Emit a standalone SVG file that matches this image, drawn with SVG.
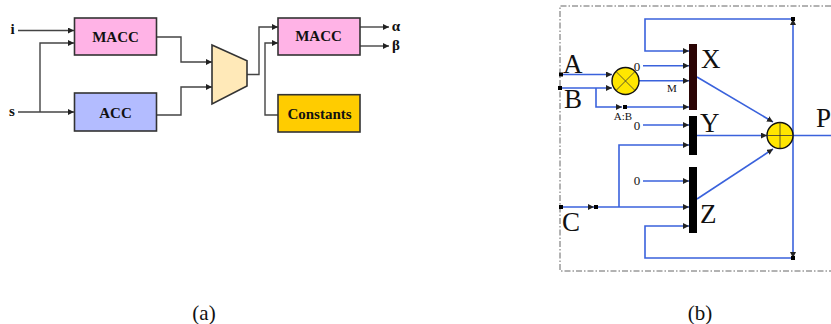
<svg xmlns="http://www.w3.org/2000/svg" width="831" height="324" viewBox="0 0 831 324">
<style>
text{font-family:"Liberation Serif","Times New Roman",serif;fill:#111}
.b{font-weight:bold;font-size:15px;text-anchor:middle}
.box{stroke:#333;stroke-width:1.6}
.w{fill:none;stroke:#444;stroke-width:1.4}
.u{fill:none;stroke:#3a62dc;stroke-width:1.6}
.t{fill:#000}
.L{font-size:27px}
.z{font-size:13px;text-anchor:middle}
.s{font-size:11px;text-anchor:middle}
.c{font-size:21px;text-anchor:middle}
.o{fill:#ffe600;stroke:#111;stroke-width:1.4}
.x{fill:none;stroke:#333;stroke-width:.8}
</style>
<defs>
<marker id="a" markerUnits="userSpaceOnUse" markerWidth="7" markerHeight="6" refX="6" refY="3" orient="auto"><path d="M0 0L6 3L0 6z" fill="#222"/></marker>
</defs>
<rect width="831" height="324" fill="#fff"/>
<g id="connectors">
<path class="w" marker-end="url(#a)" d="M18 30.500H74"/>
<path class="w" marker-end="url(#a)" d="M18 112H74"/>
<path class="w" marker-end="url(#a)" d="M40 112V43H74"/>
<path class="w" marker-end="url(#a)" d="M156.500 37H181V62H212"/>
<path class="w" marker-end="url(#a)" d="M156.500 115H181V87H212"/>
<path class="w" marker-end="url(#a)" d="M247 74.500H259V27H278"/>
<path class="w" marker-end="url(#a)" d="M278 115H265V43H278"/>
<path class="w" marker-end="url(#a)" d="M360 27H389"/>
<path class="w" marker-end="url(#a)" d="M360 46H389"/>
<path class="u" marker-end="url(#a)" d="M561 74.500H612"/>
<path class="u" marker-end="url(#a)" d="M560 88H612"/>
<path class="u" marker-end="url(#a)" d="M596 88V107H622"/>
<path class="u" marker-end="url(#a)" d="M625 107H689"/>
<path class="u" marker-end="url(#a)" d="M793 19H645V51H689"/>
<path class="u" marker-end="url(#a)" d="M643 65.700H689"/>
<path class="u" marker-end="url(#a)" d="M639 80.700H689"/>
<path class="u" marker-end="url(#a)" d="M643 125H689"/>
<path class="u" marker-end="url(#a)" d="M697 135.500H767"/>
<path class="u" d="M793 135.500H831"/>
<path class="u" marker-end="url(#a)" d="M697 77L773 122"/>
<path class="u" marker-end="url(#a)" d="M697 199L773 149"/>
<path class="u" marker-end="url(#a)" d="M793 135.500V19"/>
<path class="u" marker-end="url(#a)" d="M793 135.500V258"/>
<path class="u" marker-end="url(#a)" d="M561 207H594"/>
<path class="u" marker-end="url(#a)" d="M596 207H689"/>
<path class="u" marker-end="url(#a)" d="M619 207V145H689"/>
<path class="u" marker-end="url(#a)" d="M643 181H689"/>
<path class="u" marker-end="url(#a)" d="M793 258H645V226H689"/>
</g>
<g id="frame"><path d="M831 6H560V271H831" fill="none" stroke="#666" stroke-width="1" stroke-dasharray="6 2 1.500 2"/></g>
<g id="macc1"><rect class="box" x="74.500" y="18" width="82" height="37" fill="#ffb3e6"/><text class="b" x="115.500" y="41.500">MACC</text></g>
<g id="acc"><rect class="box" x="74.500" y="93" width="82" height="38" fill="#b3bcff"/><text class="b" x="115.500" y="117.500">ACC</text></g>
<g id="mux"><path class="box" d="M212 45L247 60.700V86L212 104z" fill="#ffe9b8"/></g>
<g id="macc2"><rect class="box" x="278" y="18" width="82" height="37" fill="#ffb3e6"/><text class="b" x="318.500" y="41">MACC</text></g>
<g id="constants"><rect class="box" x="278" y="94.700" width="82" height="37.300" fill="#ffcc00"/><text class="b" x="319.500" y="119">Constants</text></g>
<g id="labels-a">
<text class="b" x="12.500" y="34">i</text><text class="b" x="12" y="116">s</text>
<text class="b" x="396" y="31">α</text><text class="b" x="396" y="50">β</text>
<text class="c" x="204" y="320">(a)</text><text class="c" x="700" y="320">(b)</text>
</g>
<g id="mult"><circle class="o" cx="625.500" cy="81" r="13.500"/><path class="x" d="M616 71.500L635 90.500M616 90.500L635 71.500"/></g>
<g id="adder"><circle class="o" cx="780" cy="135.500" r="13"/><path class="x" d="M767 135.500H793M780 122.500V148.500"/></g>
<g id="mux-x"><rect x="689" y="44" width="8" height="66" fill="#2a0404"/></g>
<g id="mux-y"><rect class="t" x="689" y="116" width="8" height="39"/></g>
<g id="mux-z"><rect class="t" x="689" y="167" width="8" height="66"/></g>
<g id="terminals">
<rect class="t" x="559" y="72.500" width="4" height="4"/><rect class="t" x="558" y="86" width="4" height="4"/>
<rect class="t" x="623" y="105" width="4" height="4"/><rect class="t" x="559" y="205" width="4" height="4"/>
<rect class="t" x="594" y="205" width="4" height="4"/><rect class="t" x="791" y="17" width="4" height="4"/>
<rect class="t" x="791" y="256" width="4" height="4"/>
</g>
<g id="labels-b">
<text class="L" x="563" y="73">A</text><text class="L" x="564" y="108">B</text><text class="L" x="562" y="231">C</text>
<text class="L" x="701" y="68">X</text><text class="L" x="700" y="132">Y</text><text class="L" x="700" y="223">Z</text><text class="L" x="816" y="127">P</text>
<text class="z" x="637" y="71">0</text><text class="z" x="637" y="130">0</text><text class="z" x="637" y="185">0</text>
<text class="s" x="672" y="92">M</text><text class="s" x="623" y="120">A:B</text>
</g>
</svg>
